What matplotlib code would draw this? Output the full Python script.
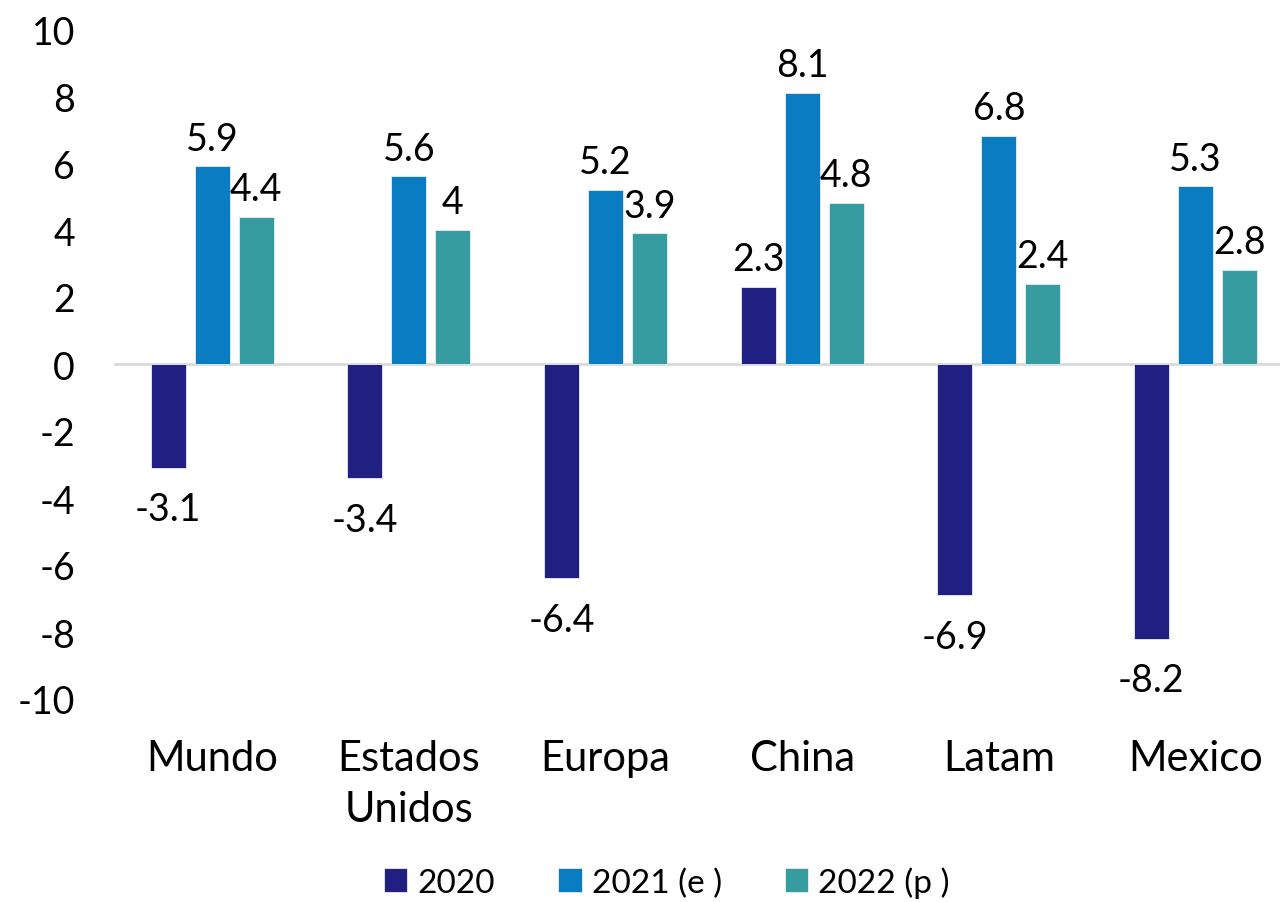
import matplotlib.pyplot as plt
import numpy as np

plt.rcParams['font.family'] = ['Lato', 'DejaVu Sans']

# data
categories = ['Mundo', 'Estados\nUnidos', 'Europa', 'China', 'Latam', 'Mexico']
series_names = ['2020', '2021 (e )', '2022 (p )']
v2020 = [-3.1, -3.4, -6.4, 2.3, -6.9, -8.2]
v2021 = [5.9, 5.6, 5.2, 8.1, 6.8, 5.3]
v2022 = [4.4, 4.0, 3.9, 4.8, 2.4, 2.8]
labels2022 = ['4.4', '4', '3.9', '4.8', '2.4', '2.8']
yticks = [10, 8, 6, 4, 2, 0, -2, -4, -6, -8, -10]
colors = ['#221F82', '#0A7DC2', '#369C9F']

fig = plt.figure(figsize=(12.8, 9.03), dpi=100)
ax = fig.add_axes([114 / 1280, 203 / 903, (1280 - 114) / 1280, 670 / 903])

x = np.arange(len(categories))
step = 0.224
width = 0.178
all_vals = [v2020, v2021, v2022]
all_labels = [[str(v) for v in v2020], [str(v) for v in v2021], labels2022]

for i, (vals, lbls) in enumerate(zip(all_vals, all_labels)):
    pos = x + (i - 1) * step
    ax.bar(pos, vals, width, color=colors[i], label=series_names[i],
           edgecolor='#e6eef5', linewidth=0.6, zorder=3)
    for p, v, t in zip(pos, vals, lbls):
        if v >= 0:
            ax.annotate(t, (p, v), xytext=(0, 7), textcoords='offset points',
                        ha='center', va='bottom', fontsize=27)
        else:
            ax.annotate(t, (p, v), xytext=(0, -17), textcoords='offset points',
                        ha='center', va='top', fontsize=27)

ax.axhline(0, color='#d9d9d9', linewidth=2, zorder=2)

ax.set_ylim(-10, 10)
ax.set_xlim(-0.5, 5.43)
ax.set_yticks(yticks)
ax.set_yticklabels([str(t) for t in yticks], fontsize=27)
ax.set_xticks(x)
ax.set_xticklabels(categories, fontsize=30, linespacing=1.4)
ax.tick_params(axis='both', length=0)
ax.tick_params(axis='y', pad=28)
ax.tick_params(axis='x', pad=29)
for s in ax.spines.values():
    s.set_visible(False)

ax.legend(loc='center', bbox_to_anchor=(667 / 1280, 20 / 903),
          bbox_transform=fig.transFigure, ncol=3, frameon=False,
          fontsize=24, handlelength=0.7, handleheight=0.7,
          handletextpad=0.3, columnspacing=1.9)

fig.savefig('out.png', dpi=100)
